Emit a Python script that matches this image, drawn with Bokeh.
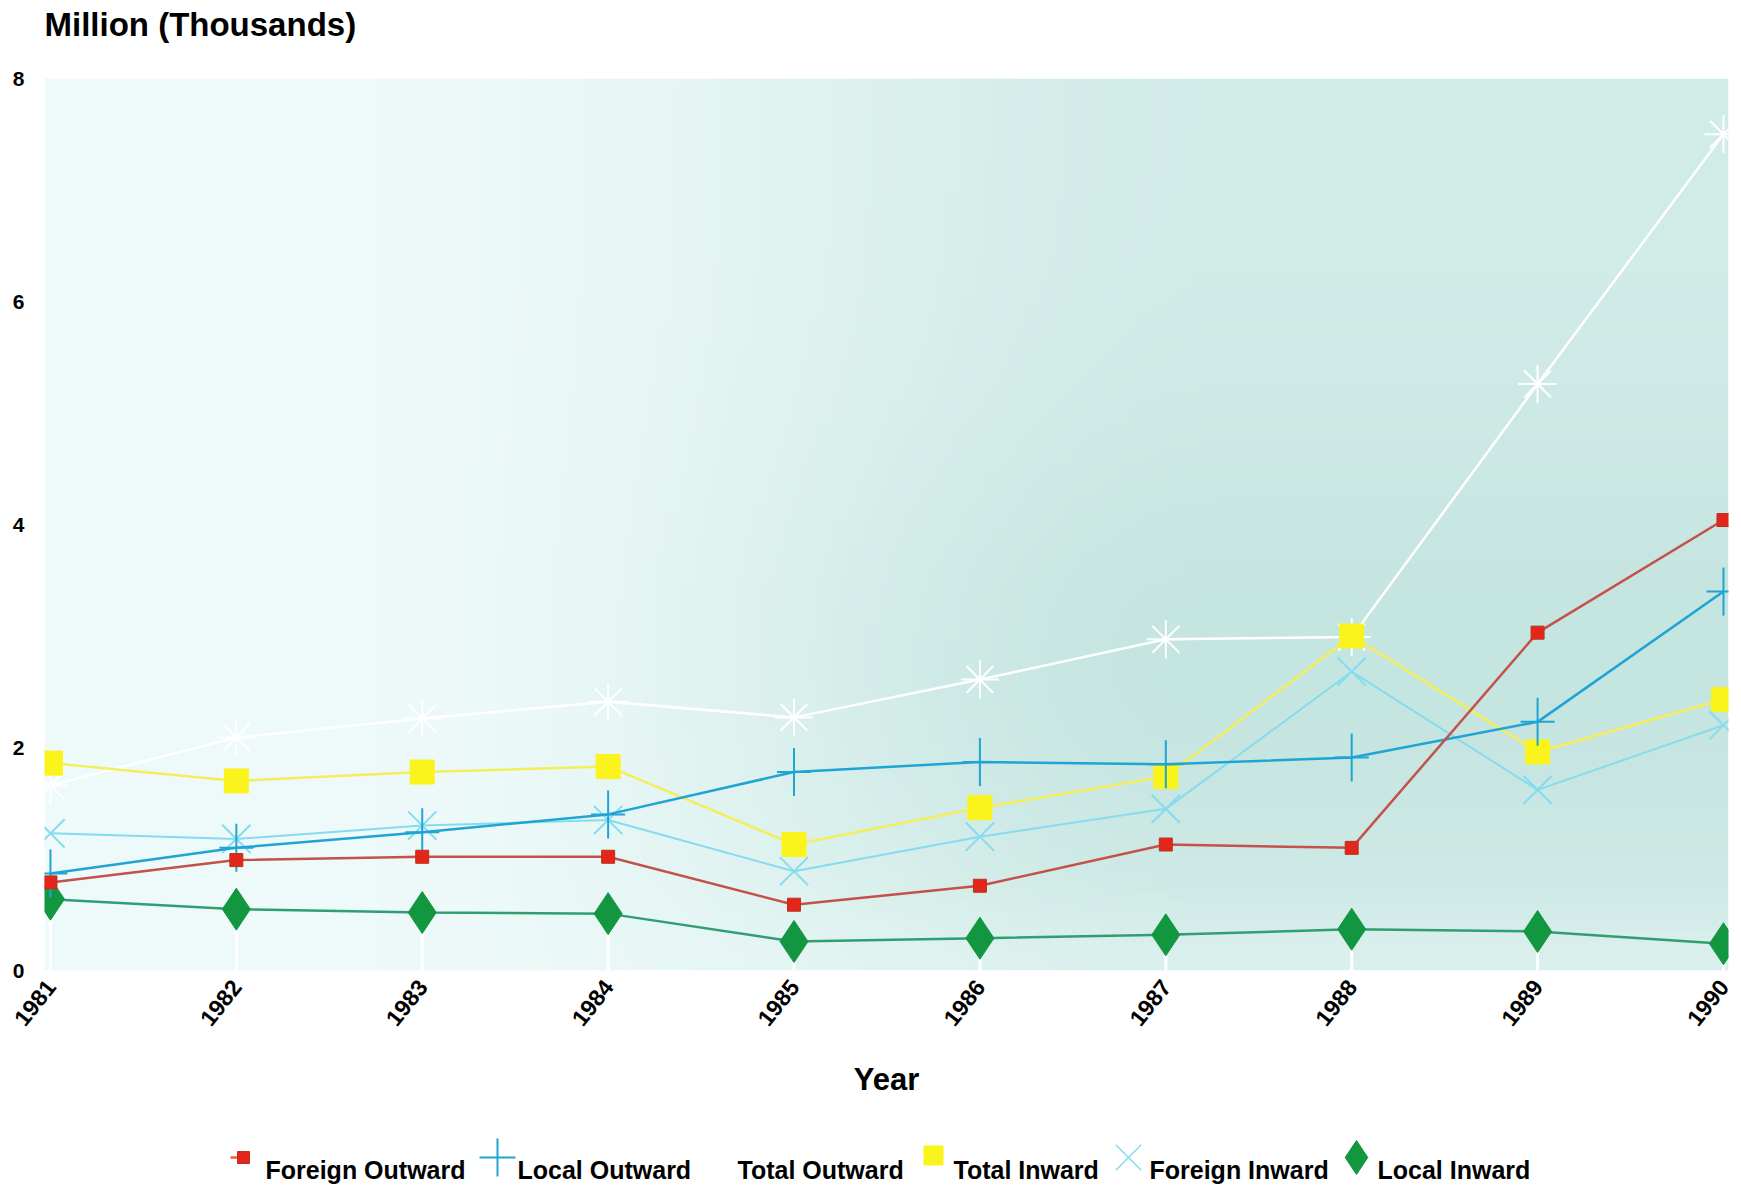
import numpy as np
from math import pi
from bokeh.plotting import figure
from bokeh.layouts import column
from bokeh.models import Range1d, FixedTicker
from bokeh.core.properties import value
from bokeh.embed import file_html
from bokeh.resources import INLINE

# Passenger movements, millions (thousands), 1981-1990
years = [1981, 1982, 1983, 1984, 1985, 1986, 1987, 1988, 1989, 1990]
foreign_outward = [0.79, 0.99, 1.02, 1.02, 0.59, 0.76, 1.13, 1.10, 3.03, 4.04]
local_outward = [0.87, 1.10, 1.24, 1.40, 1.78, 1.87, 1.85, 1.91, 2.23, 3.40]
total_outward = [1.66, 2.09, 2.26, 2.41, 2.27, 2.61, 2.97, 2.99, 5.26, 7.50]
total_inward = [1.86, 1.70, 1.78, 1.83, 1.13, 1.46, 1.74, 3.00, 1.96, 2.43]
foreign_inward = [1.23, 1.18, 1.30, 1.35, 0.89, 1.20, 1.45, 2.68, 1.62, 2.20]
local_inward = [0.64, 0.55, 0.52, 0.51, 0.26, 0.29, 0.32, 0.37, 0.35, 0.24]
y_ticks = [0, 2, 4, 6, 8]
series_names = ["Foreign Outward", "Local Outward", "Total Outward",
                "Total Inward", "Foreign Inward", "Local Inward"]

FONT = "Liberation Sans"
LEFT, FRAME_W, RIGHT = 44, 1684, 13
X0, X1 = 1980.968, 1990.027

# ---------- heading strip (x measured in page pixels) ----------
head = figure(frame_width=FRAME_W, frame_height=60, output_backend="svg",
              toolbar_location=None, x_range=Range1d(LEFT, LEFT + FRAME_W),
              y_range=Range1d(0, 60), x_axis_type=None, y_axis_type=None,
              min_border=0, min_border_left=LEFT, min_border_right=RIGHT)
head.outline_line_color = None
head.grid.visible = False
head.text(x=[LEFT], y=[36], text=["Million (Thousands)"], text_font=value(FONT),
          text_font_style="bold", text_font_size="33px", text_color="black",
          text_baseline="middle", text_align="left")

# ---------- main chart ----------
p = figure(frame_width=FRAME_W, frame_height=892, output_backend="svg",
           toolbar_location=None, x_range=Range1d(X0, X1), y_range=Range1d(0, 8),
           min_border_left=LEFT, min_border_right=RIGHT, min_border_top=18,
           min_border_bottom=150)
p.background_fill_color = "white"
p.border_fill_color = "white"
p.outline_line_color = None
p.grid.visible = False

# soft tinted backdrop of the plotting area
H, W = 90, 180
u = np.linspace(0, 1, W)[None, :]
v = np.linspace(0, 1, H)[:, None]
ramp = np.clip((u - 0.2) / 0.5, 0, 1)
ramp = ramp * ramp * (3 - 2 * ramp)
band = 0.68 + 0.32 * np.exp(-((v - 0.35) / 0.26) ** 2)
d = ramp * band
d = d * (1 - 0.35 * np.exp(-(v / 0.07) ** 2))
light = np.array([237, 250, 249])
dark = np.array([197, 229, 224])
rgb = light[None, None, :] * (1 - d[..., None]) + dark[None, None, :] * d[..., None]
img = np.empty((H, W), dtype=np.uint32)
view = img.view(dtype=np.uint8).reshape((H, W, 4))
view[..., 0] = rgb[..., 0].astype(np.uint8)
view[..., 1] = rgb[..., 1].astype(np.uint8)
view[..., 2] = rgb[..., 2].astype(np.uint8)
view[..., 3] = 255
p.image_rgba(image=[img], x=X0, y=0, dw=X1 - X0, dh=8)

# white drop lines under the local inward markers
p.segment(x0=years, y0=[0] * len(years), x1=years, y1=local_inward,
          line_color="white", line_width=3)

STY = {
    "fo": dict(line="#c4514a", fill="#e4261a", edge="#b8321f"),
    "lo": dict(line="#1fa4d4"),
    "to": dict(line="white"),
    "ti": dict(line="#f4ee5a", fill="#fbf31c"),
    "fi": dict(line="#86dcee"),
    "li": dict(line="#2f9f72", fill="#12963f"),
}

# series
p.line(years, local_inward, line_color=STY["li"]["line"], line_width=2.5)
p.scatter(years, local_inward, marker="diamond", size=42,
          fill_color=STY["li"]["fill"], line_color=STY["li"]["fill"])

p.line(years, foreign_inward, line_color=STY["fi"]["line"], line_width=2)
p.scatter(years, foreign_inward, marker="x", size=40,
          line_color=STY["fi"]["line"], line_width=2)

p.line(years, total_outward, line_color=STY["to"]["line"], line_width=2.5)
p.scatter(years, total_outward, marker="asterisk", size=38,
          line_color=STY["to"]["line"], line_width=2)

p.line(years, total_inward, line_color=STY["ti"]["line"], line_width=2.5)
p.scatter(years, total_inward, marker="square", size=24,
          fill_color=STY["ti"]["fill"], line_color=STY["ti"]["fill"])

p.line(years, local_outward, line_color=STY["lo"]["line"], line_width=2.5)
p.scatter(years, local_outward, marker="dash", size=34,
          line_color=STY["lo"]["line"], line_width=2)
p.scatter(years, local_outward, marker="dash", size=48, angle=pi / 2,
          line_color=STY["lo"]["line"], line_width=2)

p.line(years, foreign_outward, line_color=STY["fo"]["line"], line_width=2.5)
p.scatter(years, foreign_outward, marker="square", size=13,
          fill_color=STY["fo"]["fill"], line_color=STY["fo"]["edge"])

# axes
xa = p.xaxis[0]
xa.ticker = FixedTicker(ticks=years)
xa.major_label_orientation = 0.9
xa.major_label_text_font = FONT
xa.major_label_text_font_style = "bold"
xa.major_label_text_font_size = "23px"
xa.major_label_text_color = "black"
xa.major_label_standoff = 6
xa.axis_line_color = None
xa.major_tick_line_color = None
xa.minor_tick_line_color = None
xa.axis_label = "Year"
xa.axis_label_text_font = FONT
xa.axis_label_text_font_style = "bold"
xa.axis_label_text_font_size = "31px"
xa.axis_label_text_color = "black"
xa.axis_label_standoff = 26

ya = p.yaxis[0]
ya.ticker = FixedTicker(ticks=y_ticks)
ya.major_label_text_font = FONT
ya.major_label_text_font_style = "bold"
ya.major_label_text_font_size = "21px"
ya.major_label_text_color = "black"
ya.major_label_standoff = 14
ya.axis_line_color = None
ya.major_tick_line_color = None
ya.minor_tick_line_color = None

# ---------- key strip (x measured in page pixels) ----------
KEY_H = 66
key = figure(frame_width=FRAME_W, frame_height=KEY_H, output_backend="svg",
             toolbar_location=None, x_range=Range1d(LEFT, LEFT + FRAME_W),
             y_range=Range1d(0, KEY_H), x_axis_type=None, y_axis_type=None,
             min_border=0, min_border_left=LEFT, min_border_right=RIGHT)
key.outline_line_color = None
key.grid.visible = False

glyph_x = [243, 497, 712, 933, 1128, 1356]
label_x = [265, 517, 737, 953, 1149, 1377]
gy = 29
ty = 17

key.segment(x0=[glyph_x[0] - 13], y0=[gy], x1=[glyph_x[0] + 6], y1=[gy],
            line_color="#e8603a", line_width=2.5)
key.scatter([glyph_x[0]], [gy], marker="square", size=12,
            fill_color=STY["fo"]["fill"], line_color=STY["fo"]["edge"])
key.scatter([glyph_x[1]], [gy], marker="dash", size=36,
            line_color=STY["lo"]["line"], line_width=2)
key.scatter([glyph_x[1]], [gy], marker="dash", size=38, angle=pi / 2,
            line_color=STY["lo"]["line"], line_width=2)
key.scatter([glyph_x[2]], [gy], marker="asterisk", size=30,
            line_color=STY["to"]["line"], line_width=2)
key.scatter([glyph_x[3]], [gy + 2], marker="square", size=19,
            fill_color=STY["ti"]["fill"], line_color=STY["ti"]["fill"])
key.scatter([glyph_x[4]], [gy], marker="x", size=36,
            line_color=STY["fi"]["line"], line_width=1.5)
key.scatter([glyph_x[5]], [gy], marker="diamond", size=34,
            fill_color=STY["li"]["fill"], line_color=STY["li"]["fill"])
key.text(x=label_x, y=[ty] * len(label_x), text=series_names, text_font=value(FONT),
         text_font_style="bold", text_font_size="25px", text_color="black",
         text_baseline="middle", text_align="left")

layout = column(head, p, key, spacing=0)
open("out.html", "w").write(file_html(layout, INLINE))
